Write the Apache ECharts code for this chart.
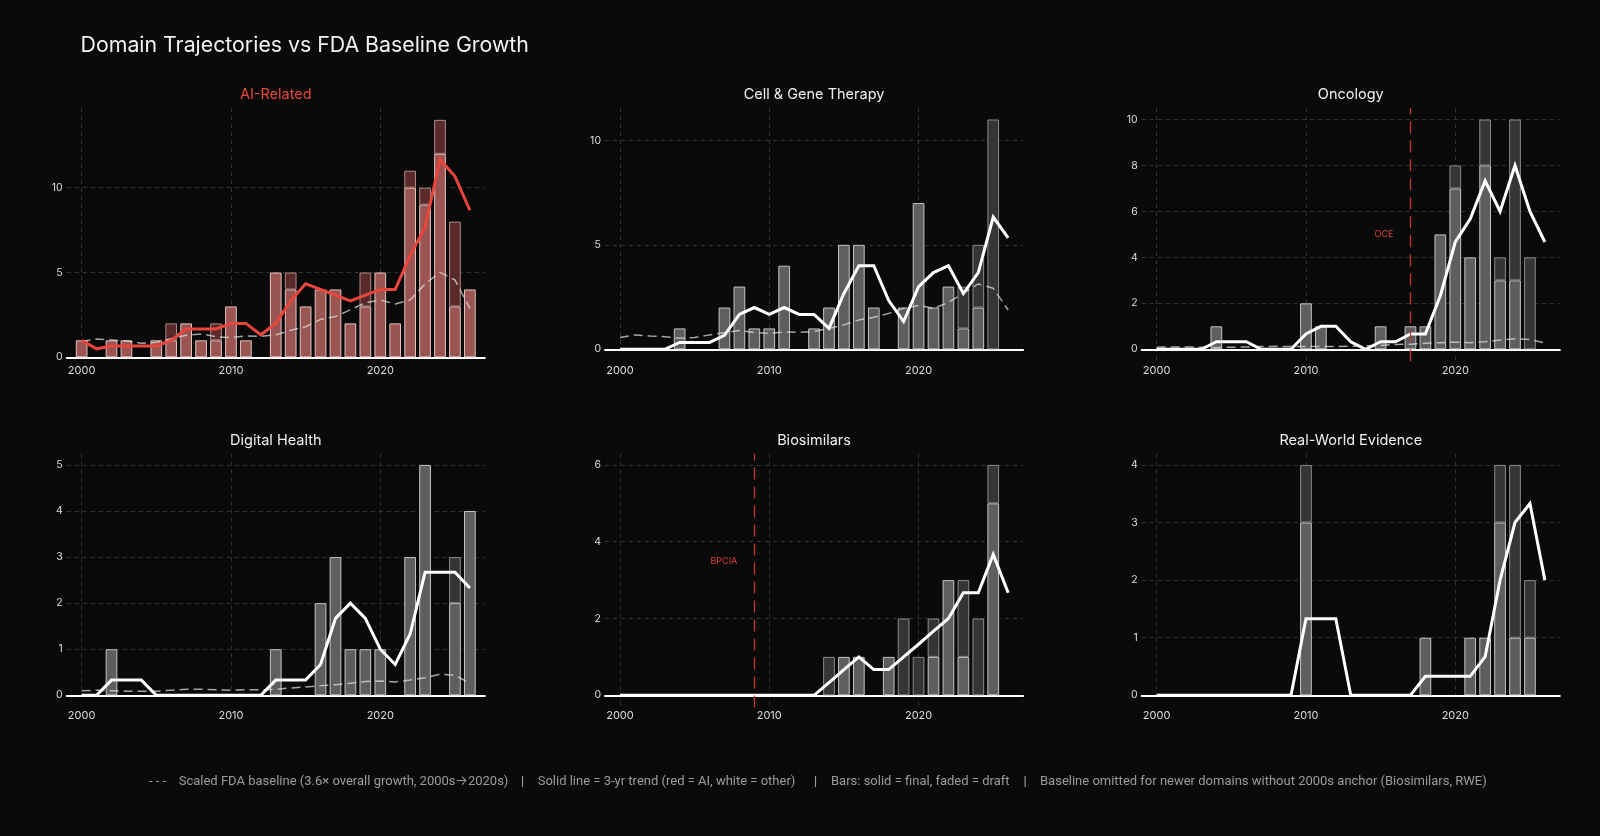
<!DOCTYPE html>
<html>
<head>
<meta charset="utf-8">
<title>Domain Trajectories vs FDA Baseline Growth</title>
<script src="https://cdn.jsdelivr.net/npm/echarts@6/dist/echarts.min.js"></script>
<style>
  html, body { margin: 0; padding: 0; background: #0a0a0a; }
  #chart { width: 1600px; height: 836px; }
</style>
</head>
<body>
<div id="chart"></div>
<script>
// Data: one value per year 2000..2026.
const years = [2000, 2001, 2002, 2003, 2004, 2005, 2006, 2007, 2008, 2009, 2010, 2011, 2012, 2013,
  2014, 2015, 2016, 2017, 2018, 2019, 2020, 2021, 2022, 2023, 2024, 2025, 2026];

const aiFinal = [1, 0, 1, 1, 0, 1, 1, 2, 1, 1, 3, 1, 0, 5, 4, 3, 4, 4, 2, 3, 5, 2, 10, 9, 12, 3, 4];
const aiDraft = [0, 0, 0, 0, 0, 0, 1, 0, 0, 1, 0, 0, 0, 0, 1, 0, 0, 0, 0, 2, 0, 0, 1, 1, 2, 5, 0];
const aiTrend = [1, 0.5, 0.67, 0.67, 0.67, 0.67, 1, 1.67, 1.67, 1.67, 2, 2, 1.33, 2, 3.33, 4.33, 4, 3.67, 3.33, 3.67, 4, 4, 6, 7.67, 11.67, 10.67, 8.67];
const aiBaseline = [0.92, 1.08, 1.02, 0.96, 0.83, 0.88, 1.1, 1.3, 1.38, 1.22, 1.16, 1.26, 1.24, 1.32, 1.6, 1.8, 2.24, 2.4, 2.8, 3.22, 3.38, 3.14, 3.38, 4.32, 5.01, 4.56, 2.89];

const cgtFinal = [0, 0, 0, 0, 1, 0, 0, 2, 3, 1, 1, 4, 0, 1, 2, 5, 5, 2, 0, 2, 7, 2, 3, 1, 2, 0, 0];
const cgtDraft = [0, 0, 0, 0, 0, 0, 0, 0, 0, 0, 0, 0, 0, 0, 0, 0, 0, 0, 0, 0, 0, 0, 0, 2, 3, 11, 0];
const cgtTrend = [0, 0, 0, 0, 0.33, 0.33, 0.33, 0.67, 1.67, 2, 1.67, 2, 1.67, 1.67, 1, 2.67, 4, 4, 2.33, 1.33, 3, 3.67, 4, 2.67, 3.67, 6.33, 5.33];
const cgtBaseline = [0.56, 0.69, 0.64, 0.6, 0.53, 0.57, 0.69, 0.8, 0.9, 0.8, 0.77, 0.83, 0.81, 0.85, 1.0, 1.17, 1.4, 1.53, 1.72, 1.96, 2.1, 1.96, 2.24, 2.68, 3.13, 2.92, 1.88];

const oncFinal = [0, 0, 0, 0, 1, 0, 0, 0, 0, 0, 2, 1, 0, 0, 0, 1, 0, 1, 1, 5, 7, 4, 8, 3, 3, 0, 0];
const oncDraft = [0, 0, 0, 0, 0, 0, 0, 0, 0, 0, 0, 0, 0, 0, 0, 0, 0, 0, 0, 0, 1, 0, 2, 1, 7, 4, 0];
const oncTrend = [0, 0, 0, 0, 0.33, 0.33, 0.33, 0, 0, 0, 0.67, 1, 1, 0.33, 0, 0.33, 0.33, 0.67, 0.67, 2.33, 4.67, 5.67, 7.33, 6, 8, 6, 4.67];
const oncBaseline = [0.09, 0.1, 0.1, 0.09, 0.08, 0.09, 0.1, 0.12, 0.13, 0.12, 0.12, 0.12, 0.12, 0.13, 0.15, 0.17, 0.21, 0.22, 0.26, 0.29, 0.31, 0.29, 0.33, 0.4, 0.46, 0.43, 0.28];

const dhFinal = [0, 0, 1, 0, 0, 0, 0, 0, 0, 0, 0, 0, 0, 1, 0, 0, 2, 3, 1, 1, 1, 0, 3, 5, 0, 2, 4];
const dhDraft = [0, 0, 0, 0, 0, 0, 0, 0, 0, 0, 0, 0, 0, 0, 0, 0, 0, 0, 0, 0, 0, 0, 0, 0, 0, 1, 0];
const dhTrend = [0, 0, 0.33, 0.33, 0.33, 0, 0, 0, 0, 0, 0, 0, 0, 0.33, 0.33, 0.33, 0.67, 1.67, 2, 1.67, 1, 0.67, 1.33, 2.67, 2.67, 2.67, 2.33];
const dhBaseline = [0.1, 0.11, 0.1, 0.09, 0.09, 0.09, 0.11, 0.13, 0.13, 0.12, 0.11, 0.12, 0.12, 0.13, 0.16, 0.18, 0.21, 0.23, 0.26, 0.3, 0.31, 0.29, 0.33, 0.38, 0.46, 0.43, 0.27];

const biosFinal = [0, 0, 0, 0, 0, 0, 0, 0, 0, 0, 0, 0, 0, 0, 0, 1, 1, 0, 1, 0, 0, 1, 3, 1, 0, 5, 0];
const biosDraft = [0, 0, 0, 0, 0, 0, 0, 0, 0, 0, 0, 0, 0, 0, 1, 0, 0, 0, 0, 2, 1, 1, 0, 2, 2, 1, 0];
const biosTrend = [0, 0, 0, 0, 0, 0, 0, 0, 0, 0, 0, 0, 0, 0, 0.33, 0.67, 1, 0.67, 0.67, 1, 1.33, 1.67, 2, 2.67, 2.67, 3.67, 2.67];

const rweFinal = [0, 0, 0, 0, 0, 0, 0, 0, 0, 0, 3, 0, 0, 0, 0, 0, 0, 0, 1, 0, 0, 1, 1, 3, 1, 1, 0];
const rweDraft = [0, 0, 0, 0, 0, 0, 0, 0, 0, 0, 1, 0, 0, 0, 0, 0, 0, 0, 0, 0, 0, 0, 0, 1, 3, 1, 0];
const rweTrend = [0, 0, 0, 0, 0, 0, 0, 0, 0, 0, 1.33, 1.33, 1.33, 0, 0, 0, 0, 0, 0.33, 0.33, 0.33, 0.33, 0.67, 2, 3, 3.33, 2];

// y tick labels per panel
const aiTicks = [0, 5, 10];
const cgtTicks = [0, 5, 10];
const oncTicks = [0, 2, 4, 6, 8, 10];
const dhTicks = [0, 1, 2, 3, 4, 5];
const biosTicks = [0, 2, 4, 6];
const rweTicks = [0, 1, 2, 3, 4];

const footerParts = [
  '- - -', 'Scaled FDA baseline (3.6\u00d7 overall growth, 2000s\u21922020s)', '|',
  'Solid line = 3-yr trend (red = AI, white = other)', '|',
  'Bars: solid = final, faded = draft', '|',
  'Baseline omitted for newer domains without 2000s anchor (Biosimilars, RWE)'
];

const panels = [
  { title: 'AI-Related', final: aiFinal, draft: aiDraft, trend: aiTrend, baseline: aiBaseline, ticks: aiTicks,
    accent: true, left: 66.7, top: 108, bottom: 357.3, labelY: 370.7 },
  { title: 'Cell & Gene Therapy', final: cgtFinal, draft: cgtDraft, trend: cgtTrend, baseline: cgtBaseline, ticks: cgtTicks,
    left: 605, top: 108, bottom: 349.3, labelY: 370.7 },
  { title: 'Oncology', final: oncFinal, draft: oncDraft, trend: oncTrend, baseline: oncBaseline, ticks: oncTicks,
    left: 1141.7, top: 108, bottom: 349.3, labelY: 370.7, event: { year: 2017, text: 'OCE', at: 5 } },
  { title: 'Digital Health', final: dhFinal, draft: dhDraft, trend: dhTrend, baseline: dhBaseline, ticks: dhTicks,
    left: 66.7, top: 453.4, bottom: 695.3, labelY: 715.5 },
  { title: 'Biosimilars', final: biosFinal, draft: biosDraft, trend: biosTrend, baseline: null, ticks: biosTicks,
    left: 605, top: 453.4, bottom: 695.3, labelY: 715.5, event: { year: 2009, text: 'BPCIA', at: 3.5 } },
  { title: 'Real-World Evidence', final: rweFinal, draft: rweDraft, trend: rweTrend, baseline: null, ticks: rweTicks,
    left: 1141.7, top: 453.4, bottom: 695.3, labelY: 715.5 }
];

const PLOT_W = 418.1;
const FONT = 'Inter, "Noto Sans", sans-serif';
const axisYears = [String(years[0] - 1)].concat(years.map(String), [String(years[years.length - 1] + 1)]);

/**
 * Pad a yearly series with empty slots for the 1999 / 2027 axis margins.
 */
function pad(arr, dropZero) {
  return [null].concat(arr.map(v => (dropZero && v === 0) ? null : v), [null]);
}

const isDecade = (idx, val) => Number(val) % 10 === 0;
const gridLine = { lineStyle: { color: '#333', width: 1, type: [4, 4] } };

const grid = [], xAxis = [], yAxis = [], series = [], graphic = [];

panels.forEach((p, i) => {
  const totals = p.final.map((v, k) => v + p.draft[k]);
  const ymax = Math.max.apply(null, totals) * 1.05;
  const fontLabel = 11;
  // panels with a milestone rule get a little room under zero so the rule can run past the axis
  const ymin = p.event ? -0.05 * ymax : 0;
  const pxPerUnit = (p.bottom - p.top) / ymax;
  const gridBottom = p.bottom - ymin * pxPerUnit;

  grid.push({ left: p.left, top: p.top, width: PLOT_W, height: gridBottom - p.top, containLabel: false });

  xAxis.push({
    type: 'category', gridIndex: i, data: axisYears, boundaryGap: false,
    axisLine: { onZero: true, lineStyle: { color: '#ffffff', width: 2 } },
    axisTick: { show: false },
    axisLabel: { interval: isDecade, color: '#dddddd', fontSize: fontLabel, fontFamily: FONT,
      margin: p.labelY - fontLabel / 2 - gridBottom },
    splitLine: Object.assign({ show: true, interval: isDecade }, gridLine)
  });

  yAxis.push({
    type: 'value', gridIndex: i, min: ymin, max: ymax,
    axisLine: { show: false },
    axisTick: { show: false, customValues: p.ticks },
    axisLabel: { customValues: p.ticks, color: '#dddddd', fontSize: 10.5, fontFamily: FONT, margin: 4 },
    splitLine: Object.assign({ show: true }, gridLine)
  });

  const solid = p.accent
    ? { color: '#9a5553', borderColor: '#e3c3c1', borderWidth: 1 }
    : { color: '#5e5e5e', borderColor: '#c4c4c4', borderWidth: 1 };
  const faded = p.accent
    ? { color: '#5a2a2a', borderColor: '#b08886', borderWidth: 1 }
    : { color: '#353535', borderColor: '#8a8a8a', borderWidth: 1 };

  series.push({
    name: p.title + ' final', type: 'bar', xAxisIndex: i, yAxisIndex: i, stack: 'bars' + i,
    barWidth: 11.7, data: pad(p.final, true), itemStyle: solid, z: 2
  });
  series.push({
    name: p.title + ' draft', type: 'bar', xAxisIndex: i, yAxisIndex: i, stack: 'bars' + i,
    barWidth: 11.7, data: pad(p.draft, true), itemStyle: faded, z: 2
  });

  if (p.baseline) {
    series.push({
      name: p.title + ' baseline', type: 'line', xAxisIndex: i, yAxisIndex: i,
      data: pad(p.baseline, false), symbol: 'none', smooth: false, z: 3,
      lineStyle: { color: 'rgba(225,225,225,0.72)', width: 1.5, type: [9, 5] }
    });
  }

  const trend = {
    name: p.title + ' trend', type: 'line', xAxisIndex: i, yAxisIndex: i,
    data: pad(p.trend, false), symbol: 'none', z: 4,
    lineStyle: { color: p.accent ? '#e8453c' : '#ffffff', width: 3, join: 'miter' }
  };
  if (p.event) {
    // regulatory milestone: dashed red rule plus a small label to its left
    const yr = String(p.event.year);
    trend.markLine = {
      silent: true, symbol: 'none', animation: false,
      data: [{ xAxis: yr }],
      lineStyle: { color: '#c0392b', width: 1.3, type: [12, 7] },
      label: { show: false }
    };
    trend.markPoint = {
      silent: true, animation: false,
      data: [{ coord: [yr, p.event.at], symbol: 'circle', symbolSize: 0,
        label: { show: true, formatter: p.event.text, position: 'left', distance: 17,
          color: '#d9443a', fontSize: 9, fontFamily: FONT } }]
    };
  }
  series.push(trend);

  graphic.push({
    type: 'text', x: p.left + PLOT_W / 2, y: p.top - 13,
    style: { text: p.title, fill: p.accent ? '#e5483c' : '#f0f0f0', font: '14.5px ' + FONT,
      align: 'center', verticalAlign: 'middle' }
  });
});

// main title
graphic.push({
  type: 'text', x: 80.6, y: 46,
  style: { text: 'Domain Trajectories vs FDA Baseline Growth', fill: '#f2f2f2', font: '21.3px ' + FONT,
    align: 'left', verticalAlign: 'middle' }
});

// footer notes
const footerX = [149, 178.7, 522.7, 537.7, 815.5, 831, 1025, 1040];
footerParts.forEach((t, k) => {
  const sep = t === '|';
  graphic.push({
    type: 'text', x: footerX[k], y: 782,
    style: { text: t, fill: sep ? '#b0b0b0' : '#9c9c9c', font: '13px Roboto, ' + FONT,
      align: sep ? 'center' : 'left', verticalAlign: 'middle' }
  });
});

const chart = echarts.init(document.getElementById('chart'), null, { renderer: 'canvas' });
chart.setOption({
  backgroundColor: '#0a0a0a',
  animation: false,
  grid: grid,
  xAxis: xAxis,
  yAxis: yAxis,
  series: series,
  graphic: graphic
});
</script>
</body>
</html>
